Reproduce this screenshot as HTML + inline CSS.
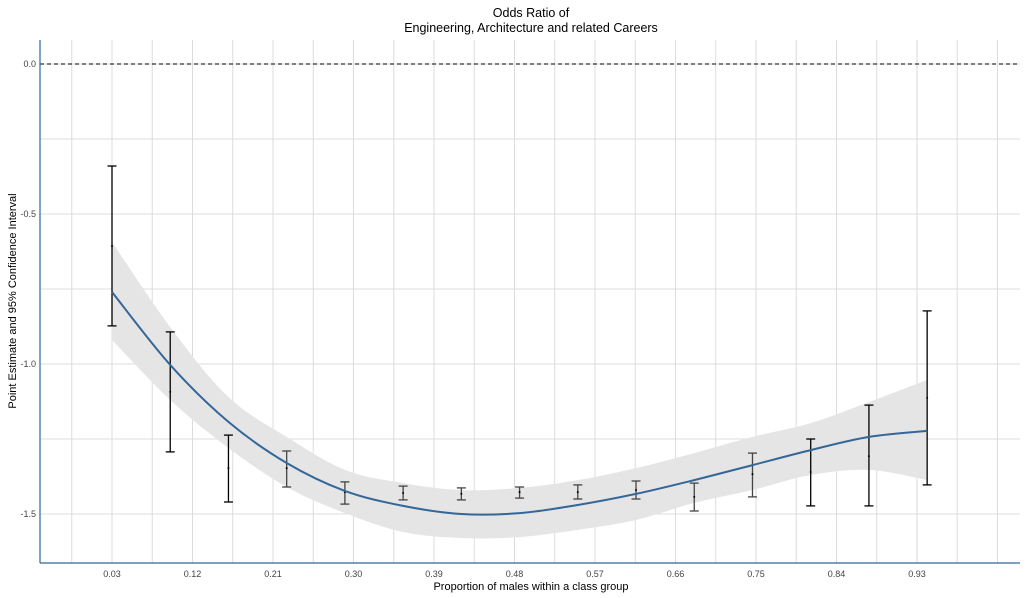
<!DOCTYPE html>
<html><head><meta charset="utf-8"><style>
body{margin:0;background:#fff;}
svg{display:block;font-family:"Liberation Sans",sans-serif;}
</style></head><body>
<svg id="chart" width="1030" height="598" viewBox="0 0 1030 598" xmlns="http://www.w3.org/2000/svg">
<text x="531" y="17" text-anchor="middle" font-size="12.5" fill="#000">Odds Ratio of</text>
<text x="531" y="32" text-anchor="middle" font-size="12.5" fill="#000">Engineering, Architecture and related Careers</text>
<text transform="translate(16,301) rotate(-90)" text-anchor="middle" font-size="11" fill="#000">Point Estimate and 95% Confidence Interval</text>
<text x="531" y="590" text-anchor="middle" font-size="11" fill="#000">Proportion of males within a class group</text>
<g id="grid"></g>
<g id="band"></g>
<g id="marks"></g>
<g id="axes"></g>
</svg>
<script>
const xPoints=[0.03,0.0951,0.1602,0.2253,0.2904,0.3555,0.4206,0.4857,0.5508,0.6159,0.681,0.7461,0.8112,0.8763,0.9414];
const estimates=[-0.607,-1.093,-1.347,-1.347,-1.427,-1.43,-1.433,-1.427,-1.427,-1.42,-1.443,-1.367,-1.36,-1.307,-1.113];
const ciLow=[-0.873,-1.293,-1.46,-1.41,-1.467,-1.453,-1.453,-1.447,-1.45,-1.45,-1.49,-1.443,-1.473,-1.473,-1.403];
const ciHigh=[-0.34,-0.893,-1.237,-1.29,-1.393,-1.407,-1.413,-1.41,-1.403,-1.39,-1.397,-1.297,-1.25,-1.137,-0.823];
const fitLine=[-0.76,-1.003,-1.193,-1.33,-1.423,-1.473,-1.5,-1.497,-1.47,-1.433,-1.387,-1.337,-1.287,-1.243,-1.223];
const bandUpper=[-0.593,-0.877,-1.11,-1.243,-1.353,-1.397,-1.42,-1.413,-1.387,-1.347,-1.297,-1.243,-1.197,-1.127,-1.053];
const bandLower=[-0.92,-1.12,-1.28,-1.41,-1.497,-1.56,-1.58,-1.577,-1.553,-1.52,-1.463,-1.42,-1.37,-1.353,-1.387];
const xTicks=[0.03,0.12,0.21,0.30,0.39,0.48,0.57,0.66,0.75,0.84,0.93];
const xTickLabels=["0.03","0.12","0.21","0.30","0.39","0.48","0.57","0.66","0.75","0.84","0.93"];
const yTicks=[0,-0.5,-1,-1.5];
const yTickLabels=["0.0","-0.5","-1.0","-1.5"];
const refLine=[0];

const L=40,R=1020,T=40,B=563;
const X=v=>112+(v-0.03)*894.4;
const Y=v=>64-v*300;
const NS="http://www.w3.org/2000/svg";
function mk(parent,tag,attrs){const e=document.createElementNS(NS,tag);for(const k in attrs)e.setAttribute(k,attrs[k]);parent.appendChild(e);return e;}
function smooth(pts,start){let d=start?'M'+pts[0][0]+','+pts[0][1]:'L'+pts[0][0]+','+pts[0][1];
 for(let i=0;i<pts.length-1;i++){const p0=pts[Math.max(0,i-1)],p1=pts[i],p2=pts[i+1],p3=pts[Math.min(pts.length-1,i+2)];
  const c1=[p1[0]+(p2[0]-p0[0])/6,p1[1]+(p2[1]-p0[1])/6],c2=[p2[0]-(p3[0]-p1[0])/6,p2[1]-(p3[1]-p1[1])/6];
  d+='C'+c1[0]+','+c1[1]+' '+c2[0]+','+c2[1]+' '+p2[0]+','+p2[1];}
 return d;}
const grid=document.getElementById('grid'),band=document.getElementById('band'),marks=document.getElementById('marks'),axes=document.getElementById('axes');

for(let v=-0.015;v<1.04;v+=0.045){const px=X(v);if(px<L||px>R)continue;
 const g=mk(grid,'line',{x1:px,x2:px,y1:T,y2:B,stroke:'#dcdcdc','stroke-width':1});
 
 }
for(let v=0.0;v>=-1.65;v-=0.25){const py=Y(v);
 const g=mk(grid,'line',{x1:L,x2:R,y1:py,y2:py,stroke:'#dcdcdc','stroke-width':1});
 
 }

const up=xPoints.map((x,i)=>[X(x),Y(bandUpper[i])]);
const lo=xPoints.map((x,i)=>[X(x),Y(bandLower[i])]).reverse();
const bp=mk(band,'path',{d:smooth(up,true)+smooth(lo,false)+'Z',fill:'#e5e5e5'});



refLine.forEach(v=>{const r=mk(marks,'line',{x1:L,x2:R,y1:Y(v),y2:Y(v),stroke:'#000','stroke-width':1,'stroke-dasharray':'4,3'});
 
 });

xPoints.forEach((x,i)=>{const px=X(x),col=(ciHigh[i]-ciLow[i])>0.2?'#000':'#444';
 const g=mk(marks,'g',{stroke:col,'stroke-width':1.3});
 
 
 mk(g,'line',{x1:px,x2:px,y1:Y(ciHigh[i]),y2:Y(ciLow[i])});
 mk(g,'line',{x1:px-4.5,x2:px+4.5,y1:Y(ciHigh[i]),y2:Y(ciHigh[i])});
 mk(g,'line',{x1:px-4.5,x2:px+4.5,y1:Y(ciLow[i]),y2:Y(ciLow[i])});
 const p=mk(marks,'circle',{cx:px,cy:Y(estimates[i]),r:1,fill:'#000'});
 
 });

const fl=mk(marks,'path',{d:smooth(xPoints.map((x,i)=>[X(x),Y(fitLine[i])]),true),fill:'none',stroke:'#336699','stroke-width':2});



const ax1=mk(axes,'line',{x1:L,x2:L,y1:T,y2:B,stroke:'#336699','stroke-width':1.2});


const ax2=mk(axes,'line',{x1:L,x2:R,y1:B,y2:B,stroke:'#336699','stroke-width':1.2});


xTicks.forEach((v,i)=>{const t=mk(axes,'text',{x:X(v),y:577,'text-anchor':'middle','font-size':9,fill:'#444'});t.textContent=xTickLabels[i];
 
 });
yTicks.forEach((v,i)=>{const t=mk(axes,'text',{x:36,y:Y(v)+3,'text-anchor':'end','font-size':9,fill:'#444'});t.textContent=yTickLabels[i];
 
 });
</script>
</body></html>
